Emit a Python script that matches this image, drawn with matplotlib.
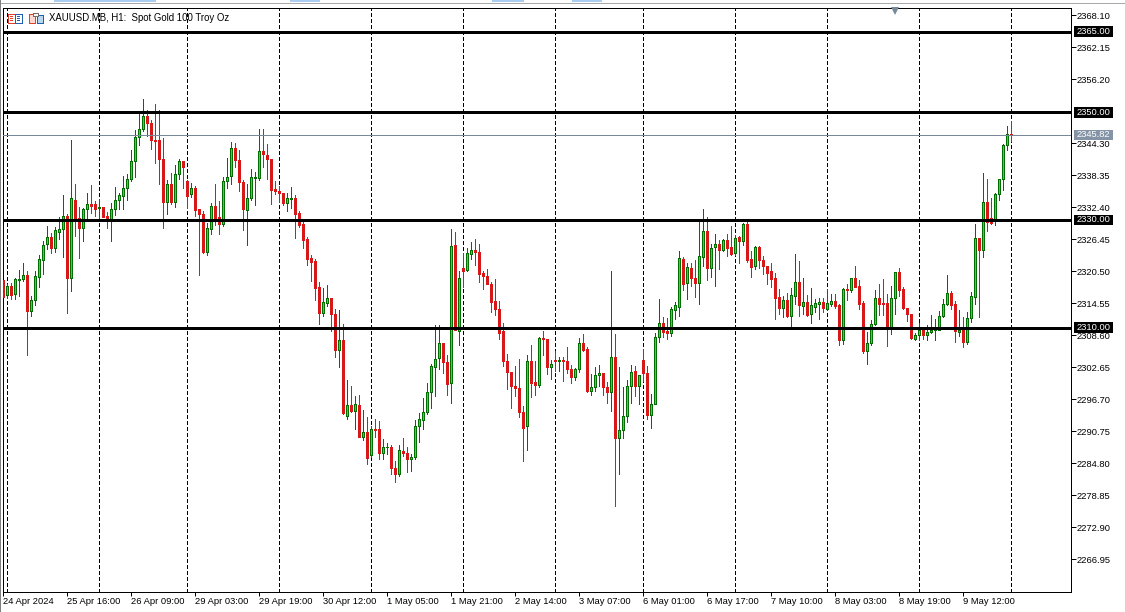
import numpy as np
import matplotlib
matplotlib.use("Agg")
import matplotlib.pyplot as plt
from matplotlib.patches import Rectangle
from matplotlib.transforms import blended_transform_factory

plt.rcParams["font.family"] = ["Liberation Sans", "DejaVu Sans"]

# Hourly XAUUSD candles, one row = 10 bars
opens = [
    2318.9,2316.1,2317.8,2316.3,2318.9,2319.1,2319.7,2313.1,2315.2,2319.4,
    2322.6,2325.5,2326.8,2324.8,2327.8,2328.4,2330.7,2319.2,2333.8,2330.3,
    2328.5,2332.1,2332.9,2332.9,2332.3,2332.5,2330.7,2330.1,2332.0,2333.8,
    2334.5,2335.9,2337.7,2340.9,2345.5,2347.0,2349.4,2348.0,2344.8,2344.8,
    2341.3,2333.4,2336.6,2333.4,2338.5,2340.9,2337.2,2334.8,2336.0,2332.0,
    2331.1,2324.1,2328.3,2332.6,2330.6,2329.2,2337.3,2338.2,2343.3,2341.2,
    2337.1,2331.8,2334.0,2337.8,2337.8,2342.9,2342.1,2341.4,2335.8,2335.3,
    2335.0,2333.2,2333.9,2334.1,2331.3,2329.3,2326.4,2322.9,2322.3,2317.5,
    2312.7,2314.6,2315.4,2312.6,2305.8,2307.6,2293.5,2295.6,2294.4,2295.6,
    2289.7,2290.6,2286.3,2291.1,2291.1,2286.6,2287.7,2287.8,2283.8,2282.8,
    2287.0,2286.6,2285.5,2286.0,2291.6,2292.8,2294.3,2298.0,2302.7,2304.3,
    2307.2,2303.6,2299.7,2325.3,2309.4,2321.0,2320.7,2323.6,2324.4,2324.0,
    2320.1,2319.5,2318.1,2314.9,2313.4,2309.3,2303.8,2301.7,2299.2,2298.8,
    2294.3,2291.7,2303.8,2299.9,2299.3,2308.0,2307.9,2302.6,2303.9,2303.8,
    2304.0,2303.8,2302.3,2300.8,2302.3,2307.2,2306.0,2298.2,2298.9,2301.2,
    2301.5,2299.0,2298.0,2304.6,2289.4,2290.9,2293.5,2299.1,2302.0,2299.1,
    2304.0,2301.6,2293.7,2295.7,2308.3,2310.9,2309.3,2309.0,2313.2,2313.9,
    2322.7,2318.2,2321.0,2319.3,2318.2,2323.1,2327.9,2321.0,2324.9,2325.5,
    2324.5,2326.3,2325.0,2323.9,2326.8,2326.0,2329.3,2322.7,2321.5,2325.0,
    2322.5,2321.4,2320.5,2319.3,2315.6,2313.6,2315.2,2312.1,2315.9,2318.4,
    2314.0,2314.7,2312.6,2313.9,2314.4,2314.7,2313.4,2314.4,2315.0,2314.1,
    2307.6,2317.1,2316.9,2319.2,2317.7,2314.5,2305.6,2307.1,2310.6,2315.4,
    2314.5,2314.5,2310.1,2315.4,2320.3,2317.1,2313.7,2312.6,2307.8,2308.7,
    2309.6,2308.6,2309.1,2309.5,2309.6,2312.2,2314.4,2316.5,2314.4,2309.1,
    2309.6,2307.3,2311.7,2315.6,2326.6,2324.4,2333.4,2330.4,2330.0,2334.9,
    2337.7,2343.9,2346.0,
]
highs = [
    2318.9,2318.0,2318.3,2319.2,2320.7,2322.0,2320.6,2315.8,2320.6,2323.5,
    2326.1,2328.9,2327.5,2328.7,2330.5,2334.6,2331.1,2344.9,2336.6,2332.4,
    2332.2,2335.0,2336.5,2333.6,2333.9,2332.5,2331.4,2333.1,2336.2,2335.0,
    2338.2,2338.5,2343.1,2346.8,2349.8,2352.5,2350.4,2348.6,2351.6,2350.4,
    2345.2,2337.5,2338.8,2340.3,2341.3,2340.9,2337.4,2336.9,2336.4,2332.1,
    2331.6,2329.4,2333.2,2336.6,2333.6,2337.9,2341.5,2344.5,2344.3,2343.1,
    2337.5,2336.7,2339.5,2339.0,2346.9,2346.9,2344.1,2341.4,2337.2,2336.4,
    2335.0,2335.0,2336.2,2334.6,2331.7,2329.6,2326.9,2323.5,2322.8,2318.4,
    2317.4,2317.9,2315.4,2313.4,2313.2,2310.6,2300.3,2299.2,2297.2,2297.4,
    2294.7,2293.4,2291.7,2292.9,2292.7,2289.3,2288.5,2288.2,2285.2,2288.2,
    2289.4,2287.8,2286.5,2292.8,2294.1,2296.9,2299.7,2303.3,2310.4,2310.4,
    2307.2,2304.8,2328.4,2327.8,2320.5,2323.8,2324.8,2325.9,2326.5,2325.6,
    2320.5,2320.8,2318.5,2319.0,2314.9,2310.9,2305.1,2301.7,2302.8,2304.2,
    2295.4,2304.8,2306.8,2303.7,2308.3,2309.3,2307.9,2303.9,2305.6,2304.5,
    2304.6,2306.3,2303.0,2302.4,2308.0,2308.8,2306.3,2301.3,2302.6,2303.0,
    2301.5,2299.8,2320.5,2308.8,2302.6,2298.9,2300.2,2303.0,2302.8,2301.2,
    2306.0,2302.8,2297.7,2308.9,2315.3,2311.9,2311.7,2313.8,2314.7,2324.3,
    2323.1,2322.0,2322.0,2322.6,2329.8,2332.1,2330.6,2325.6,2327.4,2326.3,
    2326.5,2327.3,2328.8,2327.2,2327.0,2329.4,2329.8,2324.3,2325.2,2325.2,
    2323.3,2321.4,2322.0,2320.1,2317.2,2315.8,2316.5,2317.3,2323.7,2322.4,
    2319.2,2316.0,2317.3,2315.3,2315.5,2315.5,2317.1,2316.2,2316.2,2314.4,
    2317.4,2318.1,2319.2,2321.5,2318.8,2314.9,2309.1,2311.4,2317.0,2318.1,
    2319.0,2316.2,2317.7,2320.4,2321.0,2317.5,2313.7,2312.6,2308.9,2310.8,
    2310.0,2310.4,2312.3,2311.5,2313.1,2315.3,2319.8,2316.8,2314.9,2313.2,
    2311.9,2312.9,2316.6,2329.3,2326.6,2338.8,2337.7,2334.0,2335.0,2337.7,
    2344.1,2347.5,2348.4,
]
lows = [
    2315.7,2315.5,2315.3,2315.3,2315.8,2318.7,2304.9,2312.1,2314.2,2317.5,
    2319.9,2324.6,2323.9,2324.1,2326.5,2323.2,2312.7,2316.8,2327.1,2323.0,
    2326.1,2330.3,2331.3,2330.7,2330.3,2330.5,2328.5,2326.1,2330.9,2332.0,
    2332.0,2333.7,2337.3,2337.9,2343.9,2346.5,2345.7,2343.2,2340.5,2336.7,
    2328.5,2331.2,2333.0,2332.5,2337.7,2336.0,2332.3,2334.2,2330.7,2319.8,
    2323.8,2323.5,2327.3,2329.1,2327.3,2328.9,2336.0,2336.7,2339.9,2335.3,
    2328.2,2325.4,2333.8,2332.7,2337.4,2339.8,2337.7,2332.9,2334.9,2333.4,
    2332.7,2331.6,2332.3,2326.7,2328.6,2324.8,2321.7,2318.6,2315.1,2310.6,
    2312.1,2314.0,2309.4,2304.5,2302.6,2294.0,2292.9,2294.2,2291.2,2289.6,
    2289.0,2284.7,2286.0,2289.6,2285.5,2285.6,2286.5,2282.8,2281.3,2282.3,
    2286.1,2283.2,2283.3,2285.5,2288.8,2291.1,2293.9,2295.0,2297.2,2302.2,
    2301.5,2297.4,2295.9,2309.5,2306.7,2317.6,2320.6,2322.7,2321.7,2318.5,
    2317.2,2318.0,2312.9,2312.4,2307.9,2302.8,2298.5,2295.0,2297.2,2293.3,
    2285.1,2287.3,2297.0,2297.5,2299.0,2304.8,2301.3,2300.4,2302.0,2302.0,
    2300.0,2301.5,2299.7,2300.2,2301.8,2305.6,2298.1,2297.4,2298.2,2299.2,
    2297.5,2296.0,2294.4,2276.8,2282.8,2289.4,2292.5,2296.0,2297.2,2295.7,
    2300.0,2292.9,2291.4,2295.7,2307.3,2308.2,2307.8,2308.4,2311.6,2312.1,
    2317.0,2315.3,2317.7,2315.7,2314.4,2321.5,2318.8,2319.4,2317.7,2320.9,
    2324.3,2323.3,2323.4,2323.5,2322.0,2325.4,2322.2,2319.4,2320.9,2321.1,
    2320.0,2318.1,2317.5,2311.6,2312.5,2311.9,2311.9,2310.2,2314.4,2312.1,
    2312.5,2312.1,2310.8,2312.9,2311.6,2312.9,2313.2,2314.0,2313.7,2306.8,
    2307.0,2315.2,2316.6,2317.5,2313.4,2305.2,2303.3,2306.7,2310.4,2312.4,
    2312.4,2306.5,2308.8,2312.5,2315.8,2313.4,2311.2,2307.8,2307.6,2307.6,
    2307.8,2307.6,2308.9,2307.6,2309.5,2311.9,2314.2,2313.4,2307.3,2308.4,
    2306.4,2307.0,2311.0,2314.4,2311.9,2323.1,2328.0,2329.3,2329.1,2333.8,
    2335.5,2343.1,2344.7,
]
closes = [
    2315.7,2317.8,2316.1,2319.1,2319.1,2319.7,2313.1,2315.2,2319.5,2322.7,
    2325.4,2326.8,2324.8,2328.1,2328.4,2330.7,2319.2,2334.0,2330.3,2328.5,
    2332.1,2332.9,2332.6,2332.1,2332.5,2330.6,2330.0,2332.0,2333.8,2334.6,
    2335.9,2337.7,2340.9,2345.5,2347.0,2349.3,2348.0,2344.8,2344.7,2341.3,
    2333.4,2336.6,2333.4,2338.5,2340.9,2339.9,2334.5,2336.0,2331.9,2331.1,
    2324.0,2328.5,2332.6,2330.1,2329.2,2337.3,2338.0,2343.3,2341.2,2337.0,
    2332.0,2334.1,2337.9,2337.9,2342.9,2342.2,2341.3,2335.5,2335.3,2335.0,
    2333.2,2334.1,2334.1,2331.2,2329.1,2326.3,2322.8,2322.2,2317.4,2312.7,
    2314.7,2315.4,2312.5,2305.8,2307.6,2294.1,2295.6,2294.4,2295.8,2289.7,
    2290.6,2285.8,2291.1,2291.0,2286.6,2287.7,2287.8,2283.8,2282.8,2287.2,
    2286.6,2285.5,2285.9,2291.7,2293.0,2294.3,2298.0,2302.9,2304.2,2307.2,
    2303.6,2299.5,2325.1,2309.6,2319.3,2320.6,2323.8,2324.4,2324.0,2320.0,
    2319.5,2318.0,2314.8,2313.5,2309.0,2303.8,2301.7,2299.1,2298.7,2294.2,
    2291.3,2303.8,2299.7,2299.3,2308.0,2307.9,2302.6,2303.3,2303.8,2303.9,
    2303.7,2302.3,2300.8,2302.3,2307.2,2305.8,2298.2,2299.0,2301.2,2301.5,
    2298.9,2298.0,2304.6,2289.4,2290.9,2293.6,2299.2,2301.8,2299.1,2301.2,
    2301.5,2293.7,2295.8,2308.3,2310.9,2309.2,2309.0,2313.4,2314.1,2322.9,
    2318.1,2321.2,2319.3,2318.2,2323.3,2327.9,2321.0,2324.8,2325.5,2324.5,
    2326.3,2324.8,2323.6,2326.6,2326.0,2329.3,2322.6,2321.3,2325.0,2322.5,
    2321.5,2320.2,2319.0,2315.5,2313.6,2315.2,2312.1,2316.0,2318.4,2314.1,
    2314.7,2312.3,2314.1,2314.5,2314.7,2313.7,2314.5,2315.0,2314.0,2307.6,
    2317.1,2316.9,2319.2,2317.5,2314.4,2305.6,2307.2,2310.7,2315.4,2314.4,
    2314.4,2310.1,2315.4,2320.3,2316.9,2313.6,2312.5,2308.0,2308.7,2309.6,
    2308.6,2309.1,2309.6,2309.6,2312.2,2314.4,2316.5,2314.2,2309.3,2309.6,
    2307.3,2311.7,2315.8,2326.6,2324.4,2333.4,2329.7,2329.4,2334.9,2337.7,
    2343.9,2346.0,2345.82,
]

# Price axis, every 5.95 (2350.25 sits hidden under the 2350 level label)
price_ticks = [2368.10, 2362.15, 2356.20, 2344.30, 2338.35, 2332.40, 2326.45, 2320.50,
               2314.55, 2308.60, 2302.65, 2296.70, 2290.75, 2284.80, 2278.85, 2272.90, 2266.95]
levels = [2365.00, 2350.00, 2330.00, 2310.00]
last_price = 2345.82

# Time axis: a label every 16 bars
time_labels = ["24 Apr 2024", "25 Apr 16:00", "26 Apr 09:00", "29 Apr 03:00", "29 Apr 19:00",
               "30 Apr 12:00", "1 May 05:00", "1 May 21:00", "2 May 14:00", "3 May 07:00",
               "6 May 01:00", "6 May 17:00", "7 May 10:00", "8 May 03:00", "8 May 19:00", "9 May 12:00"]
time_ticks = [i * 16 for i in range(len(time_labels))]
period_separators = [1, 24, 46, 69, 92, 115, 138, 160, 183, 206, 229, 252]

W, H = 1125, 612
PX = 0.72  # one pixel in points at dpi 100
FS = 6.75

fig = plt.figure(figsize=(W / 100, H / 100), dpi=100, facecolor="white")
ax = fig.add_axes([3.1 / W, 20.1 / H, 1068 / W, 584 / H])

o, h, l, c = map(np.array, (opens, highs, lows, closes))
x = np.arange(len(o))
up = c >= o

# separators under the candles
ax.vlines(period_separators, 0, 1, transform=ax.get_xaxis_transform(), colors="black",
          linewidth=PX, linestyles=(0, (3, 2.6)), antialiased=False, zorder=1)

# wicks
ax.vlines(x[up], l[up], h[up], colors="#007000", linewidth=PX, antialiased=False, zorder=2)
ax.vlines(x[~up], l[~up], h[~up], colors="#d81818", linewidth=PX, antialiased=False, zorder=2)

# bodies
ax.bar(x[up], (c - o)[up], bottom=o[up], width=0.5, color="#00ff00", edgecolor="#007000",
       linewidth=PX, antialiased=False, zorder=3)
ax.bar(x[~up], (c - o)[~up], bottom=o[~up], width=0.5, color="#e01414", edgecolor="#d81818",
       linewidth=PX, antialiased=False, zorder=3)

# horizontal levels and last price line
for lv in levels:
    ax.axhline(lv, color="black", linewidth=3 * PX, antialiased=False, zorder=4)
ax.axhline(last_price, color="#778899", linewidth=PX, antialiased=False, zorder=4)

ax.set_xlim(0, 267)
ax.set_ylim(2260.84, 2369.43)

ax.set_yticks(price_ticks)
ax.set_yticklabels(["%.2f" % p for p in price_ticks])
ax.yaxis.tick_right()
ax.tick_params(axis="y", length=3.6, width=PX, pad=0.6, labelsize=FS)
ax.set_xticks(time_ticks)
ax.set_xticklabels(time_labels, ha="left")
ax.tick_params(axis="x", length=3, width=PX, pad=0.6, labelsize=FS)
for sp in ax.spines.values():
    sp.set_linewidth(PX)
    sp.set_color("black")

# price labels on the scale
trans = blended_transform_factory(ax.transAxes, ax.transData)
box_x = 1 + 2.9 / 1068
box_w = 39 / 1068
box_h = 10.5 / 5.378


def price_label(price, face):
    ax.add_patch(Rectangle((box_x, price - box_h / 2), box_w, box_h, transform=trans,
                           facecolor=face, edgecolor="none", clip_on=False, zorder=6))
    ax.text(box_x + 3 / 1068, price, "%.2f" % price, transform=trans, color="white",
            fontsize=FS, va="center", ha="left", clip_on=False, zorder=7)


for lv in levels:
    price_label(lv, "black")
price_label(last_price, "#8494a6")

# small marker at the top of the chart
ax.plot([223], [0.9949], marker="v", color="#778899", markersize=5.5, markeredgewidth=0,
        transform=ax.get_xaxis_transform(), clip_on=False, zorder=5)

# chart title
fig.text(49 / W, 1 - 18.2 / H, "XAUUSD.MB, H1:  Spot Gold 100 Troy Oz", fontsize=6.95,
         color="black", va="center", ha="left", zorder=10)


# window chrome and the two title icons, placed in pixels from the top left
def px_rect(x0, y0, w, h_, face, edge="none"):
    fig.add_artist(Rectangle((x0 / W, 1 - (y0 + h_) / H), w / W, h_ / H, transform=fig.transFigure,
                             facecolor=face, edgecolor=edge, linewidth=PX, antialiased=False))


px_rect(0, 3, W, 1, "#a8a8a8")
for tx, tw in [(54, 102), (290, 30), (492, 32), (572, 30)]:
    px_rect(tx, 0, tw, 2, "#a8cdf0")
px_rect(0, 0, 1, H, "#808080")
px_rect(8, 14, 7, 9, "white", "#e04030")
px_rect(15, 14, 7, 9, "white", "#2060b0")
for iy in (16, 18, 20):
    px_rect(10, iy, 3, 0.6, "#e04030")
    px_rect(17, iy, 3, 0.6, "#2060b0")
px_rect(29, 14, 6, 9, "#ffd8d0", "#e04030")
px_rect(37, 15, 6, 8, "#b8d8f0", "#2060b0")
px_rect(33, 13, 5, 3, "white", "#707070")

fig.savefig("out.png", dpi=100, facecolor="white")
